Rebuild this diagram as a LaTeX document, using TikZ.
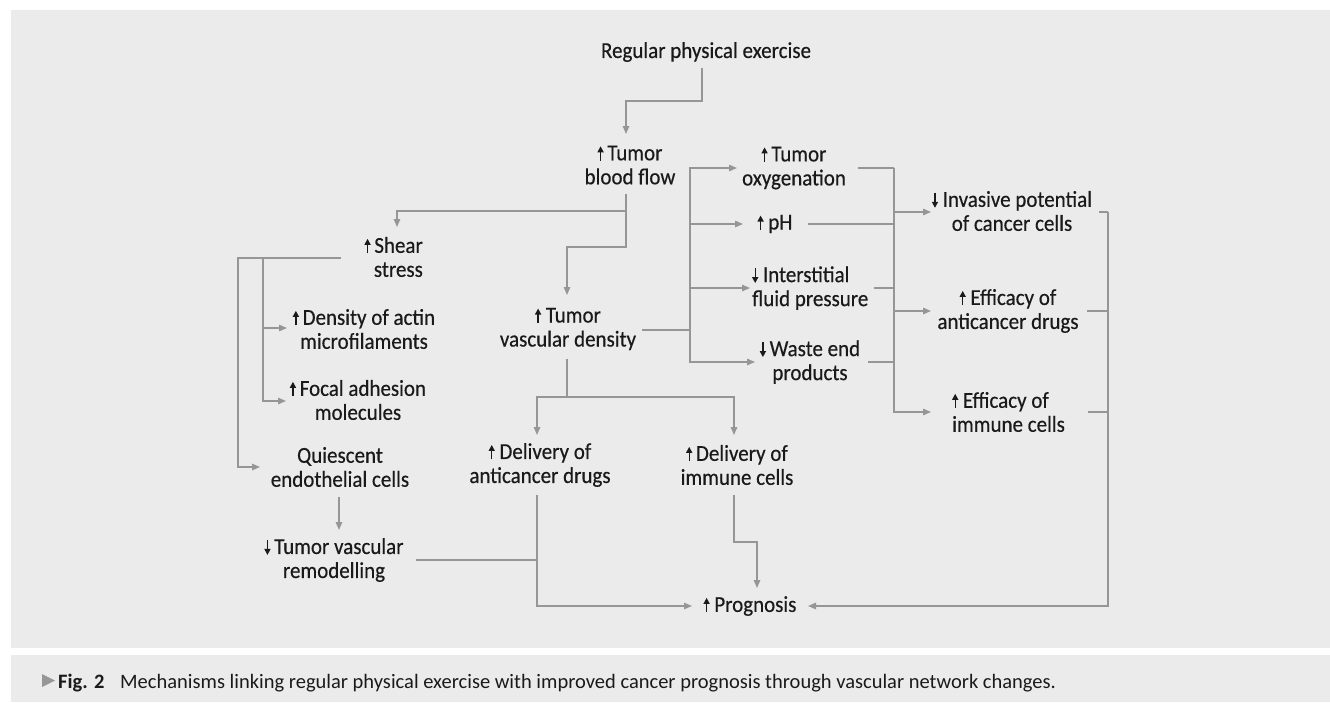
\documentclass[tikz,border=0pt]{standalone}
\usepackage{fontspec}
\setmainfont{Carlito}
\newfontfamily\lblfont{Carlito}[FakeStretch=0.92,FakeBold=0.4]
\usetikzlibrary{arrows.meta}
\definecolor{panel}{HTML}{EBEBEB}
\definecolor{lgrey}{HTML}{969696}
\definecolor{ink}{HTML}{1A1A1A}
\newcommand\upar{\tikz[baseline=0pt]\draw[ink,line width=1.4pt,-{Triangle[length=6pt,width=6pt]}](0pt,-0.5pt)--(0pt,14pt);}
\newcommand\dnar{\tikz[baseline=0pt]\draw[ink,line width=1.4pt,-{Triangle[length=6pt,width=6pt]}](0pt,14pt)--(0pt,-1pt);}
\begin{document}
\begin{tikzpicture}[x=1pt,y=-1pt,
  lbl/.style={font=\lblfont\fontsize{22.8}{24}\selectfont, text=ink, inner sep=0pt, align=center},
  conn/.style={lgrey, line width=1.4pt},
  arr/.style={conn, -{Triangle[length=8pt,width=6.5pt]}},
  captxt/.style={font=\fontsize{20.5}{24}\selectfont, text=ink, inner sep=0pt, anchor=base west}]
\path[use as bounding box] (0,0) rectangle (1330,702);
\fill[white] (0,0) rectangle (1330,702);
\fill[panel] (11,10) rectangle (1330,648);
\fill[panel] (11,655) rectangle (1330,702);

% nodes
\node[lbl] (rpe) at (706,52) {Regular physical exercise};
\node[lbl] (tbf) at (630,165) {\upar\,Tumor\\blood flow};
\node[lbl, align=right, anchor=east] (sst) at (423,257) {\upar\,Shear\\stress};
\node[lbl] (dam) at (364,329) {\upar\,Density of actin\\microfilaments};
\node[lbl] (fam) at (358,400) {\upar\,Focal adhesion\\molecules};
\node[lbl] (qec) at (340,467) {Quiescent\\endothelial cells};
\node[lbl] (tvr) at (334,560) {\dnar\,Tumor vascular\\remodelling};
\node[lbl] (tvd) at (568,329) {\upar\ Tumor\\vascular density};
\node[lbl] (dad) at (540,465) {\upar\ Delivery of\\anticancer drugs};
\node[lbl] (dic) at (737,465) {\upar\,Delivery of\\immune cells};
\node[lbl] (prg) at (750,606) {\upar\ Prognosis};
\node[lbl] (tox) at (794,168) {\upar\,Tumor\\oxygenation};
\node[lbl] (tph) at (775,224) {\upar\ pH};
\node[lbl, align=left, anchor=west] (ifp) at (752,288) {\dnar\ Interstitial\\fluid pressure};
\node[lbl] (wep) at (810,362) {\dnar\,Waste end\\products};
\node[lbl] (ipc) at (1012,211) {\dnar\ Invasive potential\\of cancer cells};
\node[lbl] (ead) at (1008,311) {\upar\ Efficacy of\\anticancer drugs};
\node[lbl, align=left, anchor=west] (eic) at (952,412) {\upar\ Efficacy of\\immune cells};

% connectors
\draw[arr] (702,68) -- (702,101) -- (626,101) -- (626,134);
\draw[arr] (626,194) -- (626,247) -- (567,247) -- (567,295);
\draw[arr] (626,211) -- (397,211) -- (397,227);
\draw[arr] (341,258) -- (238,258) -- (238,467) -- (260,467);
\draw[arr] (263,258) -- (263,401) -- (286,401);
\draw[arr] (263,328) -- (287,328);
\draw[conn] (642,330) -- (690,330);
\draw[arr] (690,330) -- (690,168) -- (737,168);
\draw[arr] (690,330) -- (690,362) -- (755,362);
\draw[arr] (690,224) -- (743,224);
\draw[arr] (690,288) -- (750,288);
\draw[conn] (567,359) -- (567,397);
\draw[arr] (567,397) -- (537,397) -- (537,435);
\draw[arr] (567,397) -- (734,397) -- (734,435);
\draw[arr] (339,497) -- (339,530);
\draw[conn] (416,560) -- (537,560);
\draw[arr] (537,495) -- (537,606) -- (692,606);
\draw[arr] (734,495) -- (734,542) -- (757,542) -- (757,588);
\draw[conn] (858,168) -- (894,168);
\draw[conn] (808,224) -- (894,224);
\draw[conn] (874,288) -- (894,288);
\draw[conn] (868,362) -- (894,362);
\draw[arr] (894,168) -- (894,412) -- (931,412);
\draw[arr] (894,212) -- (931,212);
\draw[arr] (894,311) -- (931,311);
\draw[conn] (1099,212) -- (1108,212);
\draw[conn] (1087,311) -- (1108,311);
\draw[conn] (1088,412) -- (1108,412);
\draw[arr] (1108,212) -- (1108,606) -- (808,606);

% caption
\fill[lgrey] (42,674) -- (55,680.5) -- (42,687) -- cycle;
\node[captxt, font=\fontsize{20.5}{24}\selectfont\bfseries] (fig) at (58,688) {Fig. 2};
\node[captxt] (cap) at (120,688) {Mechanisms linking regular physical exercise with improved cancer prognosis through vascular network changes.};
\end{tikzpicture}
\end{document}
